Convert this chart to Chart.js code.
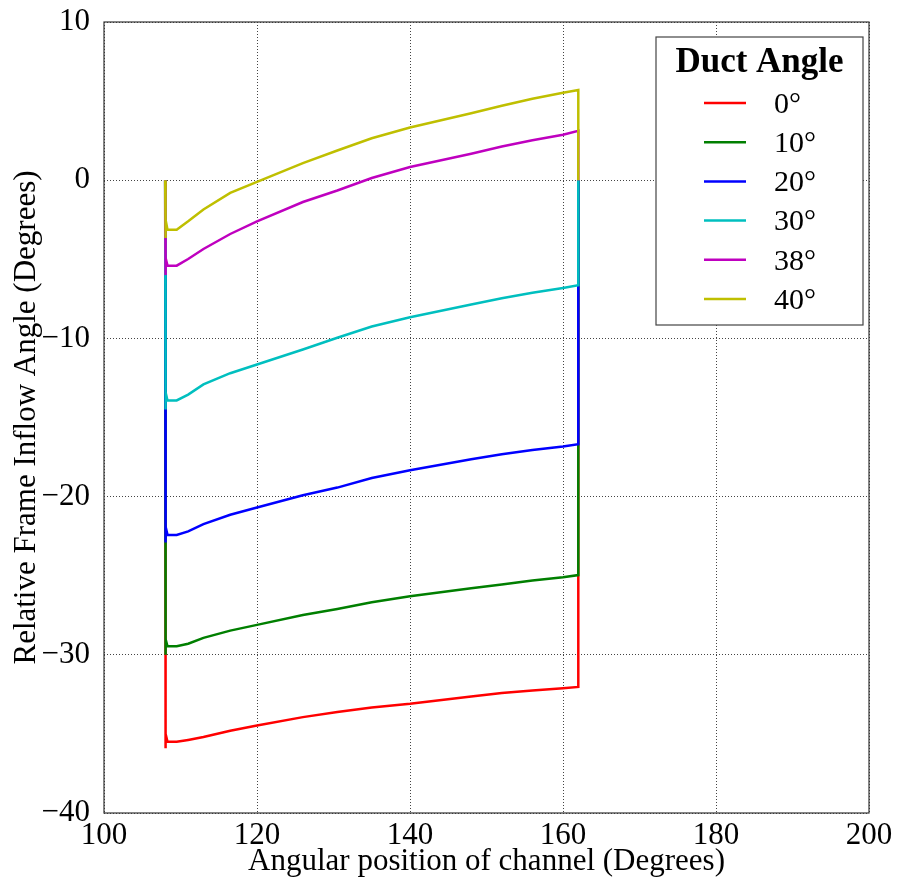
<!DOCTYPE html>
<html>
<head>
<meta charset="utf-8">
<script src="https://cdn.jsdelivr.net/npm/chart.js@4.4.1/dist/chart.umd.min.js"></script>
<style>
  html, body { margin: 0; padding: 0; background: #fff; }
  #wrap { width: 898px; height: 882px; }
</style>
</head>
<body>
<div id="wrap"><canvas id="chart-inflow" width="898" height="882"></canvas></div>
<script>
// ── Data ──────────────────────────────────────────────────────────────────
// Angular position (deg). Each curve starts and ends at 0 on the channel edges.
const ANGLES = [108, 108, 108.1, 108.3, 109.5, 111, 113, 116.5, 120, 126, 130.5, 135, 140, 148, 152, 156, 160, 162, 162];

const DUCT_0  = [0, -35.9, -35.0, -35.5, -35.5, -35.38, -35.2, -34.8, -34.47, -33.94, -33.62, -33.33, -33.1, -32.64, -32.42, -32.25, -32.11, -32.03, 0];
const DUCT_10 = [0, -30.0, -29.0, -29.46, -29.46, -29.3, -28.93, -28.47, -28.11, -27.48, -27.1, -26.68, -26.3, -25.8, -25.55, -25.3, -25.1, -24.96, 0];
const DUCT_20 = [0, -22.9, -21.9, -22.42, -22.42, -22.2, -21.74, -21.15, -20.69, -19.91, -19.43, -18.83, -18.33, -17.64, -17.32, -17.06, -16.84, -16.69, 0];
const DUCT_30 = [0, -14.5, -13.4, -13.92, -13.92, -13.55, -12.91, -12.2, -11.65, -10.7, -9.96, -9.25, -8.66, -7.86, -7.46, -7.11, -6.81, -6.64, 0];
const DUCT_38 = [0, -6.0, -4.9, -5.4, -5.4, -4.98, -4.35, -3.4, -2.6, -1.38, -0.65, 0.14, 0.83, 1.67, 2.13, 2.52, 2.87, 3.12, 0];
const DUCT_40 = [0, -3.65, -2.5, -3.13, -3.13, -2.6, -1.85, -0.8, -0.1, 1.08, 1.88, 2.65, 3.33, 4.23, 4.71, 5.15, 5.53, 5.70, 0];

const SERIES_LABELS = ['0°', '10°', '20°', '30°', '38°', '40°'];
const SERIES_VALUES = [DUCT_0, DUCT_10, DUCT_20, DUCT_30, DUCT_38, DUCT_40];
const SERIES_COLORS = ['#ff0000', '#007f00', '#0000ff', '#00bfbf', '#bf00bf', '#bfbf00'];

const X_TICKS = [100, 120, 140, 160, 180, 200];
const Y_TICKS = [-40, -30, -20, -10, 0, 10];

(function () {
  const SERIF = "'Liberation Serif', 'DejaVu Serif', serif";

  function fmtTick(v) { return v < 0 ? '\u2212' + Math.abs(v) : String(v); }

  // ── Plugins ───────────────────────────────────────────────────────────────

  // full frame round the plot, like matplotlib's box
  const frame = {
    id: 'frame',
    afterDraw(chart) {
      const { ctx, chartArea: a } = chart;
      ctx.save();
      ctx.strokeStyle = '#333';
      ctx.lineWidth = 1.2;
      ctx.strokeRect(a.left, a.top, a.right - a.left, a.bottom - a.top);
      ctx.restore();
    }
  };

  // legend box with a title, sat in the upper right of the plot
  const legendBox = {
    id: 'legendBox',
    afterDraw(chart) {
      const ctx = chart.ctx;
      const box = { x: 656, y: 37, w: 207, h: 288 };
      ctx.save();
      ctx.fillStyle = '#fff';
      ctx.fillRect(box.x, box.y, box.w, box.h);
      ctx.strokeStyle = '#444';
      ctx.lineWidth = 1.2;
      ctx.strokeRect(box.x, box.y, box.w, box.h);

      ctx.fillStyle = '#000';
      ctx.font = `bold 35px ${SERIF}`;
      ctx.textAlign = 'center';
      ctx.textBaseline = 'middle';
      ctx.fillText('Duct Angle', box.x + box.w / 2, 63);

      ctx.font = `30px ${SERIF}`;
      ctx.textAlign = 'left';
      chart.data.datasets.forEach((ds, i) => {
        const y = 103 + i * 39.2;
        ctx.strokeStyle = ds.borderColor;
        ctx.lineWidth = 2.5;
        ctx.beginPath();
        ctx.moveTo(704, y);
        ctx.lineTo(746, y);
        ctx.stroke();
        ctx.fillText(ds.label, 774, y + 2);
      });
      ctx.restore();
    }
  };

  // ── Chart ─────────────────────────────────────────────────────────────────

  const datasets = SERIES_LABELS.map((label, i) => ({
    label,
    data: ANGLES.map((x, j) => ({ x, y: SERIES_VALUES[i][j] })),
    borderColor: SERIES_COLORS[i],
    backgroundColor: SERIES_COLORS[i],
    borderWidth: 2.5,
    pointRadius: 0,
    tension: 0,
    order: SERIES_LABELS.length - i,
  }));

  const gridStyle = {
    color: '#444',
    lineWidth: 1,
    drawTicks: false,
  };

  new Chart(document.getElementById('chart-inflow').getContext('2d'), {
    type: 'line',
    data: { datasets },
    options: {
      responsive: false,
      animation: false,
      events: [],
      layout: { padding: { top: 22, right: 29, left: 0, bottom: 0 } },
      plugins: { legend: { display: false }, tooltip: { enabled: false } },
      scales: {
        x: {
          type: 'linear',
          min: 100, max: 200,
          afterBuildTicks: s => { s.ticks = X_TICKS.map(v => ({ value: v })); },
          afterFit: s => { s.height = 69; s.paddingLeft = 0; s.paddingRight = 0; },
          border: { display: false, dash: [1, 2] },
          grid: gridStyle,
          ticks: {
            color: '#000', padding: 4, maxRotation: 0,
            font: { family: SERIF, size: 31 },
            callback: v => fmtTick(v),
          },
          title: {
            display: true, text: 'Angular position of channel (Degrees)',
            color: '#000', font: { family: SERIF, size: 31 },
            padding: { top: 0, bottom: 2 },
          }
        },
        y: {
          type: 'linear',
          min: -40, max: 10,
          afterBuildTicks: s => { s.ticks = Y_TICKS.map(v => ({ value: v })); },
          afterFit: s => { s.width = 104; s.paddingTop = 0; s.paddingBottom = 0; },
          border: { display: false, dash: [1, 2] },
          grid: gridStyle,
          ticks: {
            color: '#000', padding: 14,
            font: { family: SERIF, size: 31 },
            callback: v => fmtTick(v),
          },
          title: {
            display: true, text: 'Relative Frame Inflow Angle (Degrees)',
            color: '#000', font: { family: SERIF, size: 31 },
            padding: { top: 8, bottom: 0 },
          }
        }
      }
    },
    plugins: [frame, legendBox]
  });
})();
</script>
</body>
</html>
